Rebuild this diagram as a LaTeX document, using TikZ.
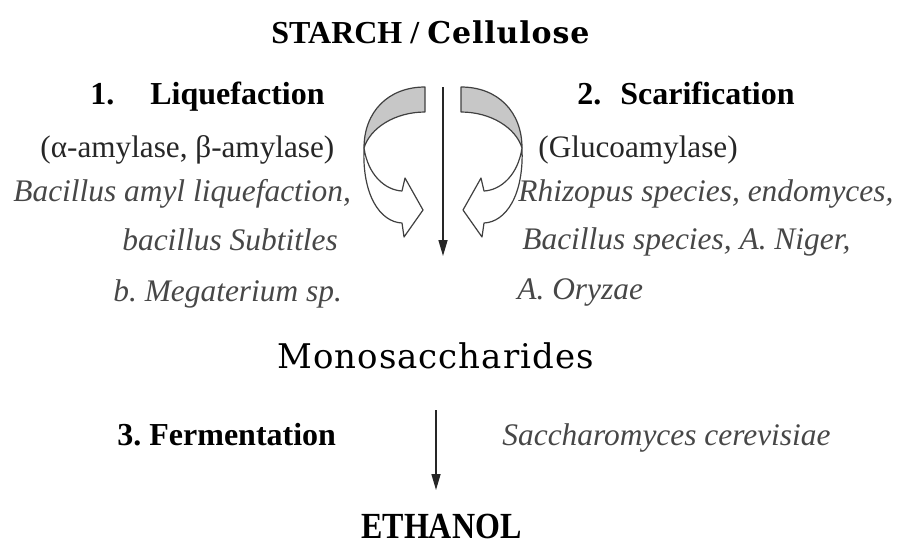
\documentclass[tikz,border=0pt]{standalone}
\usepackage{fontspec}
\setmainfont{Liberation Serif}
\newfontfamily\wideserif[LetterSpace=3]{DejaVu Serif}
\usetikzlibrary{arrows.meta}

\begin{document}
\begin{tikzpicture}[x=0.5pt, y=-0.5pt, every node/.style={inner sep=0pt, anchor=base west},
	title/.style={font=\fontsize{16}{19}\selectfont\bfseries},
	enzyme/.style={font=\fontsize{15.6}{18}\selectfont, text=black!85},
	species/.style={font=\fontsize{15.7}{18}\selectfont\itshape, text=black!72},
	ribbon/.style={draw=black!75, line width=0.6pt, line join=round},
	>={Triangle[length=8pt, width=4.5pt]}]
	\useasboundingbox (0,0) rectangle (897,548);
	\node[title] (starch) at (271,43) {STARCH / {\wideserif\fontsize{15}{18}\selectfont Cellulose}};
	% left branch
	\node[title] (liq) at (90,104) {1.\hspace{18pt}Liquefaction};
	\node[enzyme] (amyl) at (40,157) {(α-amylase, β-amylase)};
	\node[species] (bac1) at (13,201) {Bacillus amyl liquefaction,};
	\node[species] (bac2) at (122,250) {bacillus Subtitles};
	\node[species] (bac3) at (113,301) {b.\ Megaterium sp.};
	% right branch
	\node[title] (sca) at (577,104) {2.\hspace{9.5pt}Scarification};
	\node[enzyme] (gluco) at (538,157) {(Glucoamylase)};
	\node[species] (rhi1) at (518,201) {Rhizopus species, endomyces,};
	\node[species] (rhi2) at (522,249) {Bacillus species, A.\ Niger,};
	\node[species] (rhi3) at (517,299) {A.\ Oryzae};
	\node (mono) at (277,368) {\wideserif\fontsize{17}{20}\selectfont Monosaccharides};
	\node[title] (ferm) at (117,445) {3.\ Fermentation};
	\node[species] (yeast) at (502,445) {Saccharomyces cerevisiae};
	\node[title, yscale=1.15, transform shape] (eth) at (361,538) {ETHANOL};
	% arrows
	\coordinate (s1) at (443,87);
	\coordinate (s2) at (443,256);
	\coordinate (f1) at (436,410);
	\coordinate (f2) at (436,490);
	\draw[->, line width=0.75pt, black!85] (s1) -- (s2);
	\draw[->, line width=0.75pt, black!85] (f1) -- (f2);
	\foreach \s in {1,-1} {
		\begin{scope}[shift={(443,0)}, xscale=\s]
			\filldraw[ribbon, fill=black!22] (-18,87) -- (-18,112) .. controls (-48,112) and (-73,128) .. (-79,148) .. controls (-79,112) and (-55,87) .. (-18,87) -- cycle;
			\filldraw[ribbon, fill=white] (-79,148) .. controls (-75,175) and (-58,190) .. (-41,191) -- (-38,178) -- (-20,210) -- (-39,237) -- (-41,223) .. controls (-63,222) and (-81,195) .. (-79,148) -- cycle;
		\end{scope}
	}
\end{tikzpicture}
\end{document}
